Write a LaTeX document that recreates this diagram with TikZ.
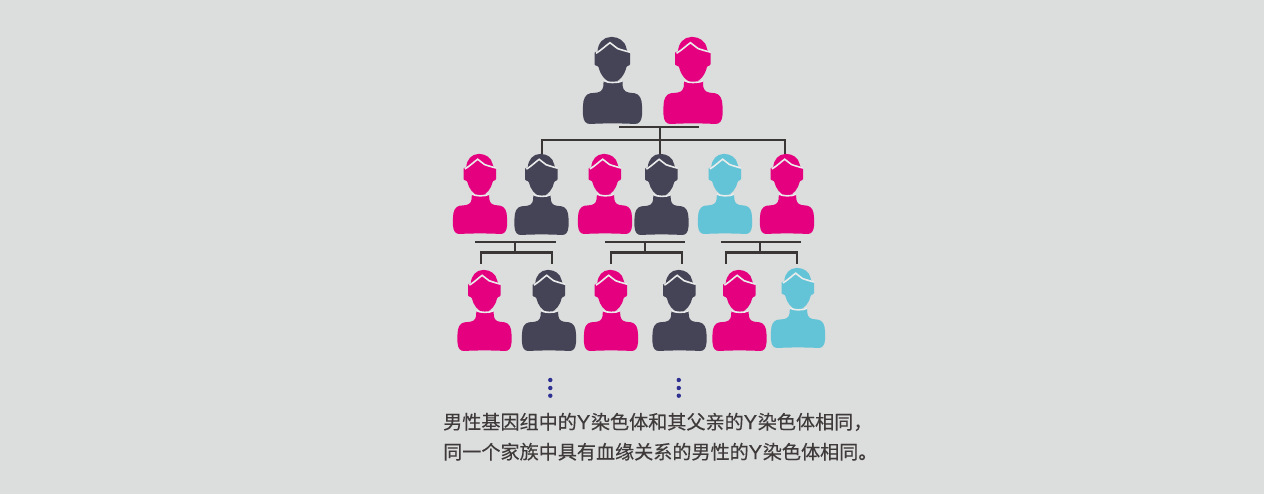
\documentclass[tikz,border=0pt]{standalone}
\usepackage{fontspec}
\newfontfamily\cjk[FakeBold=0.4]{Noto Sans CJK SC}
\newfontfamily\latn[FakeBold=0.3]{Liberation Sans}
\newcommand{\lY}{{\latn\fontsize{20pt}{20pt}\selectfont Y\kern0.7pt}}
\definecolor{bgc}{HTML}{DCDDDD}
\definecolor{darkp}{HTML}{454457}
\definecolor{pinkp}{HTML}{E4007F}
\definecolor{tealp}{HTML}{62C4D6}
\definecolor{linec}{HTML}{3A3635}
\definecolor{dotc}{HTML}{2E3192}
\definecolor{txtc}{HTML}{3E3A39}
\tikzset{
  personbox/.style={minimum width=#1, minimum height=10pt, inner sep=0pt, outer sep=0pt, anchor=north},
  tree/.style={draw=linec, line width=2pt},
  treebranch/.style={draw=linec, line width=2.5pt},
  wave/.style={draw=bgc!60!white, line width=1.6pt, fill=none},
  dotmark/.style={circle, fill=dotc, inner sep=0pt, minimum size=4.4pt},
  caption/.style={anchor=base west, inner sep=0pt, text=txtc, font=\cjk\fontsize{19.1pt}{19.1pt}\selectfont}
}
% name, centre x, top y, bottom y, half width, colour
\newcommand{\person}[6]{%
  \pgfmathsetmacro{\sxx}{#5/29.5}\pgfmathsetmacro{\syy}{(#4-#3)/87}%
  \begin{scope}[shift={(#2,#3)},xscale=\sxx,yscale=\syy]
    \fill[#6,rounded corners=0.8pt] (-15,15) .. controls (-14.5,6) and (-9,0) .. (-1,0) .. controls (6,0) and (12.5,4) .. (14,12) -- (15,14.5) -- (17.5,15.5) -- (17.5,28) -- (14,29.5) .. controls (12.5,37) and (7,45) .. (0,45) .. controls (-7,45) and (-12.5,37) .. (-14,29.5) -- (-18,28) -- (-18,15) -- cycle;
    \fill[#6] (-9,44) -- (-9,46) .. controls (-9,51) and (-10,54.5) .. (-15,55.5) .. controls (-18,56) and (-20,56) .. (-22,56.2) .. controls (-27,57) and (-29.5,62) .. (-29.5,69) .. controls (-29.5,72) and (-29.8,75) .. (-29.5,78) .. controls (-29.2,84) and (-26.5,87.3) .. (-22,87) .. controls (-10,86.2) and (10,86.2) .. (22,87) .. controls (26.5,87.3) and (29.2,84) .. (29.5,78) .. controls (29.8,75) and (29.5,72) .. (29.5,69) .. controls (29.5,62) and (27,57) .. (22,56.2) .. controls (20,56) and (18,56) .. (16,55.5) .. controls (11,54.5) and (10,51) .. (10,46) -- (10,44) -- cycle;
    \draw[wave] (-16.5,16.3) .. controls (-11,13) and (-6,8) .. (-2.5,5.7) .. controls (0,7) and (2,10) .. (5,11.5) .. controls (9,13) and (13,14) .. (17.5,15.2);
    \draw[wave] (-9,43.5) .. controls (-5,46) and (5,46.3) .. (10,43.7);
  \end{scope}
  \node[personbox=#5*2pt, minimum height=#4pt-#3pt] (#1) at (#2,#3) {};
}
\begin{document}
\begin{tikzpicture}[x=1pt,y=-1pt]
\useasboundingbox (0,0) rectangle (1264,494);
\fill[bgc] (0,0) rectangle (1264,494);
\person{gA}{612.5}{37}{124}{29.5}{darkp}
\person{gB}{693}{37}{124}{29.5}{pinkp}
\person{pA}{480}{154}{234}{27}{pinkp}
\person{pB}{541.5}{154}{235}{27}{darkp}
\person{pC}{605}{154}{234}{27}{pinkp}
\person{pD}{661.5}{154}{235}{27}{darkp}
\person{pE}{725}{154}{234}{27}{tealp}
\person{pF}{787}{154}{234}{27}{pinkp}
\person{cA}{484.5}{270}{351}{27}{pinkp}
\person{cB}{549}{270}{351}{27}{darkp}
\person{cC}{611}{270}{351}{27}{pinkp}
\person{cD}{679.5}{270}{351}{27}{darkp}
\person{cE}{739.5}{270}{351}{27}{pinkp}
\person{cF}{798}{268}{348}{27}{tealp}
% top family
\coordinate (b1l) at (619,127.5);
\coordinate (b1r) at (699,127.5);
\coordinate (b1m) at (659.5,127.5);
\coordinate (h1) at (659.5,140);
\coordinate (h1l) at (542,140);
\coordinate (h1r) at (785,140);
\draw[tree] (b1l) -- (b1m) -- (b1r) (b1m) -- (h1) -- (h1 |- pD.north);
\draw[treebranch] (h1l |- pB.north) -- (h1l) -- (h1r) -- (h1r |- pF.north);
% second row families
\coordinate (b2l) at (475,242.5);
\coordinate (b2r) at (556,242.5);
\coordinate (b2m) at (515,242.5);
\coordinate (h2l) at (481,252.5);
\coordinate (h2r) at (552,252.5);
\coordinate (h2m) at (515,252.5);
\draw[tree] (b2l) -- (b2m) -- (b2r) (b2m) -- (h2m);
\draw[treebranch] ([yshift=6pt]h2l |- cA.north) -- (h2l) -- (h2r) -- ([yshift=6pt]h2r |- cB.north);
\coordinate (b3l) at (605,242.5);
\coordinate (b3r) at (685,242.5);
\coordinate (b3m) at (645,242.5);
\coordinate (h3l) at (611,252.5);
\coordinate (h3r) at (682,252.5);
\coordinate (h3m) at (645,252.5);
\draw[tree] (b3l) -- (b3m) -- (b3r) (b3m) -- (h3m);
\draw[treebranch] ([yshift=6pt]h3l |- cC.north) -- (h3l) -- (h3r) -- ([yshift=6pt]h3r |- cD.north);
\coordinate (b4l) at (721,242.5);
\coordinate (b4r) at (801,242.5);
\coordinate (b4m) at (760,242.5);
\coordinate (h4l) at (726,252.5);
\coordinate (h4r) at (797,252.5);
\coordinate (h4m) at (760,252.5);
\draw[tree] (b4l) -- (b4m) -- (b4r) (b4m) -- (h4m);
\draw[treebranch] ([yshift=6pt]h4l |- cE.north) -- (h4l) -- (h4r) -- ([yshift=6pt]h4r |- cE.north);
% dots
\node[dotmark] (d1) at (550.3,380) {};
\node[dotmark] (d2) at (550.3,388) {};
\node[dotmark] (d3) at (550.3,395.7) {};
\node[dotmark] (d4) at (678.8,380) {};
\node[dotmark] (d5) at (678.8,388) {};
\node[dotmark] (d6) at (678.8,395.7) {};
% caption
\node[caption] (t1) at (443,429) {男性基因组中的\lY 染色体和其父亲的\lY 染色体相同，};
\node[caption] (t2) at (443,459) {同一个家族中具有血缘关系的男性的\lY 染色体相同。};
\end{tikzpicture}
\end{document}
